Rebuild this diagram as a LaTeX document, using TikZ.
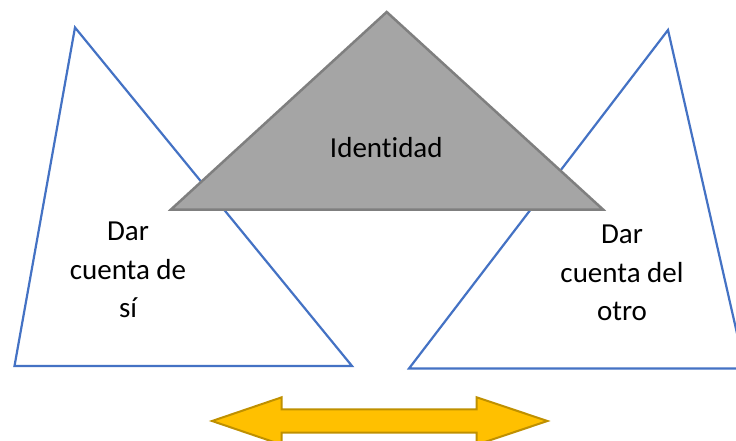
\documentclass[tikz,border=0pt]{standalone}
\usepackage{fontspec}
\setmainfont{Carlito}[Ligatures=NoCommon]
\definecolor{triblue}{HTML}{4472C4}
\definecolor{grayfill}{HTML}{A5A5A5}
\definecolor{graydraw}{HTML}{7F7F7F}
\definecolor{arrfill}{HTML}{FFC000}
\definecolor{arrdraw}{HTML}{BF9000}
\begin{document}
\begin{tikzpicture}[x=1pt,y=-1pt,
  bluetri/.style={draw=triblue,fill=white,line width=2.2pt,line join=miter},
  graytri/.style={draw=graydraw,fill=grayfill,line width=2.5pt,line join=miter},
  yarrow/.style={draw=arrdraw,fill=arrfill,line width=2pt,line join=miter},
  lbl/.style={inner sep=0pt,align=center,text=black,font=\fontsize{29}{38.3}\selectfont}]
\useasboundingbox (0,0) rectangle (736,441);
\clip (0,0) rectangle (736,441);
% left triangle
\coordinate (la) at (75,27.5);
\coordinate (lb) at (14.5,366);
\coordinate (lc) at (352,366);
\draw[bluetri] (la) -- (lb) -- (lc) -- cycle;
% right triangle
\coordinate (ra) at (668,30);
\coordinate (rb) at (409,368.5);
\coordinate (rc) at (745,368.5);
\draw[bluetri] (ra) -- (rb) -- (rc) -- cycle;
% gray triangle
\coordinate (ga) at (386.7,12);
\coordinate (gb) at (171,209.5);
\coordinate (gc) at (603,209.5);
\draw[graytri] (ga) -- (gb) -- (gc) -- cycle;
% double arrow
\coordinate (tl) at (212,421);
\coordinate (tr) at (547.5,421);
\draw[yarrow] (tl) -- (281.7,397.3) -- (281.7,409.3) -- (476.7,409.3) -- (476.7,397.3)
  -- (tr) -- (476.7,444.7) -- (476.7,432.7) -- (281.7,432.7) -- (281.7,444.7) -- cycle;
% labels
\node[lbl,anchor=base] (ident) at (386.3,157.7) {Identidad};
\node[lbl] (self) at (128,270) {Dar\\cuenta de\\sí};
\node[lbl] (other) at (622,273) {Dar\\cuenta del\\otro};
\end{tikzpicture}
\end{document}
